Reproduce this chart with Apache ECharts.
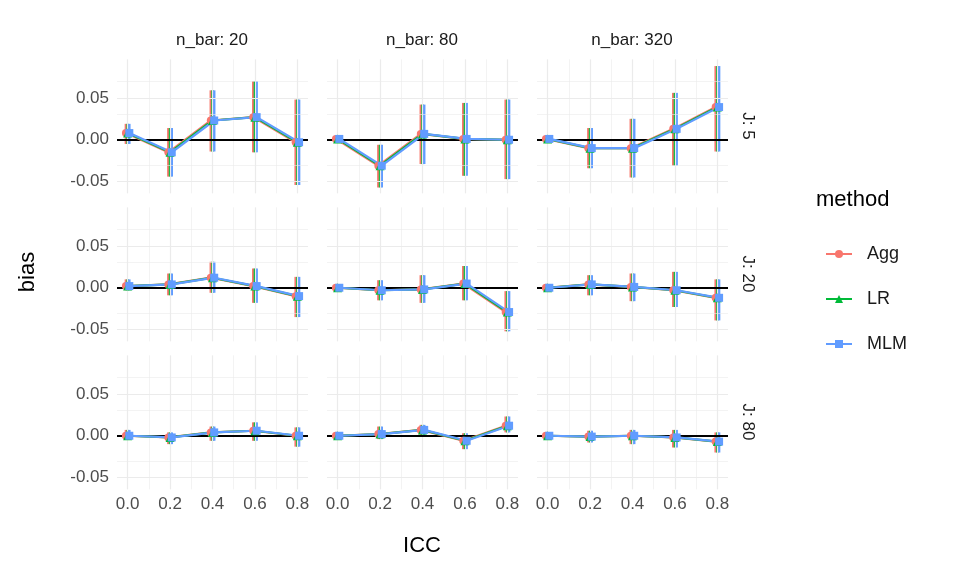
<!DOCTYPE html>
<html><head><meta charset="utf-8">
<script src="https://cdn.jsdelivr.net/npm/echarts@6/dist/echarts.min.js"></script>
<style>body{margin:0;background:#fff}#c{width:960px;height:576px}</style>
</head><body><div id="c"></div>
<script>
// data: rows = J, columns = n_bar
const icc = [0, 0.2, 0.4, 0.6, 0.8];
const nbarLabels = ['20', '80', '320'];
const jLabels = ['5', '20', '80'];
const methods = ['Agg', 'LR', 'MLM'];
const colors = ['#F8766D', '#00BA38', '#619CFF'];
const shapes = ['circle', 'triangle', 'rect'];

const bias = [
  [[0.008, -0.015, 0.023, 0.027, -0.003], [0.001, -0.031, 0.007, 0.001, 0.0], [0.001, -0.010, -0.010, 0.013, 0.039]],
  [[0.002, 0.004, 0.012, 0.002, -0.010], [0.0, -0.003, -0.002, 0.005, -0.029], [0.0, 0.004, 0.001, -0.003, -0.012]],
  [[0.0, -0.002, 0.004, 0.006, 0.0], [0.0, 0.002, 0.007, -0.006, 0.012], [0.0, -0.001, 0.0, -0.002, -0.007]]
];
const lower = [
  [[-0.005, -0.044, -0.014, -0.015, -0.054], [-0.002, -0.057, -0.029, -0.043, -0.047], [-0.002, -0.034, -0.045, -0.031, -0.014]],
  [[-0.003, -0.009, -0.006, -0.018, -0.035], [-0.002, -0.015, -0.018, -0.015, -0.052], [-0.002, -0.009, -0.016, -0.023, -0.039]],
  [[-0.005, -0.010, -0.006, -0.006, -0.013], [-0.003, -0.004, 0.0, -0.016, 0.004], [-0.003, -0.008, -0.010, -0.014, -0.020]]
];
const upper = [
  [[0.019, 0.014, 0.059, 0.070, 0.048], [0.004, -0.006, 0.042, 0.044, 0.048], [0.004, 0.014, 0.025, 0.056, 0.088]],
  [[0.010, 0.017, 0.031, 0.023, 0.013], [0.003, 0.009, 0.015, 0.026, -0.004], [0.002, 0.015, 0.017, 0.019, 0.010]],
  [[0.007, 0.004, 0.011, 0.016, 0.010], [0.003, 0.011, 0.013, 0.003, 0.023], [0.003, 0.006, 0.007, 0.007, 0.004]]
];
const yLabels = [-0.05, 0, 0.05];
const yMinor = [-0.025, 0.025, 0.075];
const xMinor = [0.1, 0.3, 0.5, 0.7];

const chart = echarts.init(document.getElementById('c'));
const grids = [], xAxes = [], yAxes = [], series = [], graphics = [];
const lefts = [117, 327, 537], zeros = [140, 288, 436];
const dodge = [-0.008, 0, 0.008];

for (let r = 0; r < 3; r++) {
  for (let c = 0; c < 3; c++) {
    const g = grids.length;
    grids.push({left: lefts[c], top: zeros[r] - 0.096 * 840, width: 191, height: 134});
    xAxes.push({type: 'value', gridIndex: g, min: -0.05, max: 0.85,
      axisLine: {show: false}, axisTick: {show: false}, splitLine: {show: false},
      axisLabel: {show: r === 2, customValues: icc, formatter: v => v.toFixed(1),
        color: '#4d4d4d', fontSize: 17, margin: 6, fontFamily: 'Liberation Sans'}});
    yAxes.push({type: 'value', gridIndex: g, min: -0.064, max: 0.096,
      axisLine: {show: false}, axisTick: {show: false}, splitLine: {show: false},
      axisLabel: {show: c === 0, customValues: yLabels, formatter: v => v.toFixed(2),
        color: '#4d4d4d', fontSize: 17, margin: 8, fontFamily: 'Liberation Sans'}});
    // grid lines and the zero line
    const major = '#EBEBEB';
    series.push({type: 'line', xAxisIndex: g, yAxisIndex: g, data: [], silent: true,
      markLine: {symbol: 'none', silent: true, label: {show: false}, animation: false,
        data: [
          ...yLabels.map(v => ({yAxis: v, lineStyle: {color: major, width: 1.2, type: 'solid'}})),
          ...yMinor.map(v => ({yAxis: v, lineStyle: {color: major, width: 0.6, type: 'solid'}})),
          ...icc.map(v => ({xAxis: v, lineStyle: {color: major, width: 1.2, type: 'solid'}})),
          ...xMinor.map(v => ({xAxis: v, lineStyle: {color: major, width: 0.6, type: 'solid'}}))
        ]}});
    series.push({type: 'line', xAxisIndex: g, yAxisIndex: g, data: [], silent: true, z: 3,
      markLine: {symbol: 'none', silent: true, label: {show: false}, animation: false,
        data: [{yAxis: 0, lineStyle: {color: '#000', width: 2.2, type: 'solid'}}]}});
    methods.forEach((m, k) => {
      series.push({type: 'custom', xAxisIndex: g, yAxisIndex: g, z: 4, silent: true,
        data: icc.map((x, i) => [x + dodge[k], lower[r][c][i], upper[r][c][i]]),
        renderItem: (params, api) => {
          const a = api.coord([api.value(0), api.value(1)]);
          const b = api.coord([api.value(0), api.value(2)]);
          return {type: 'line', shape: {x1: a[0], y1: a[1], x2: b[0], y2: b[1]},
            style: {stroke: colors[k], lineWidth: 2.5}};
        }});
      series.push({type: 'line', name: m, xAxisIndex: g, yAxisIndex: g, z: 5,
        data: icc.map((x, i) => [x + dodge[k], bias[r][c][i]]),
        symbol: shapes[k], symbolSize: shapes[k] === 'triangle' ? 9 : 8,
        itemStyle: {color: colors[k]}, lineStyle: {color: colors[k], width: 2.2}});
    });
  }
}
nbarLabels.forEach((n, c) => graphics.push({type: 'text', x: lefts[c] + 95, y: 40,
  style: {text: 'n_bar: ' + n, fill: '#1a1a1a', font: '17px Liberation Sans', textAlign: 'center', textVerticalAlign: 'middle'}}));
jLabels.forEach((j, r) => graphics.push({type: 'text', x: 748, y: zeros[r] - 14, rotation: -Math.PI / 2,
  style: {text: 'J: ' + j, fill: '#1a1a1a', font: '17px Liberation Sans', textAlign: 'center', textVerticalAlign: 'middle'}}));
graphics.push({type: 'text', x: 28, y: 272, rotation: Math.PI / 2,
  style: {text: 'bias', fill: '#000', font: '22px Liberation Sans', textAlign: 'center', textVerticalAlign: 'middle'}});
graphics.push({type: 'text', x: 422, y: 546,
  style: {text: 'ICC', fill: '#000', font: '22px Liberation Sans', textAlign: 'center', textVerticalAlign: 'middle'}});
graphics.push({type: 'text', x: 816, y: 200,
  style: {text: 'method', fill: '#000', font: '22px Liberation Sans', textVerticalAlign: 'middle'}});

chart.setOption({
  animation: false,
  grid: grids, xAxis: xAxes, yAxis: yAxes, series: series, graphic: graphics,
  legend: {data: methods, orient: 'vertical', left: 820, top: 240, itemGap: 27,
    itemWidth: 26, itemHeight: 10, textStyle: {fontSize: 18, color: '#1a1a1a', fontFamily: 'Liberation Sans', padding: [0, 0, 0, 10]}}
});
</script></body></html>
